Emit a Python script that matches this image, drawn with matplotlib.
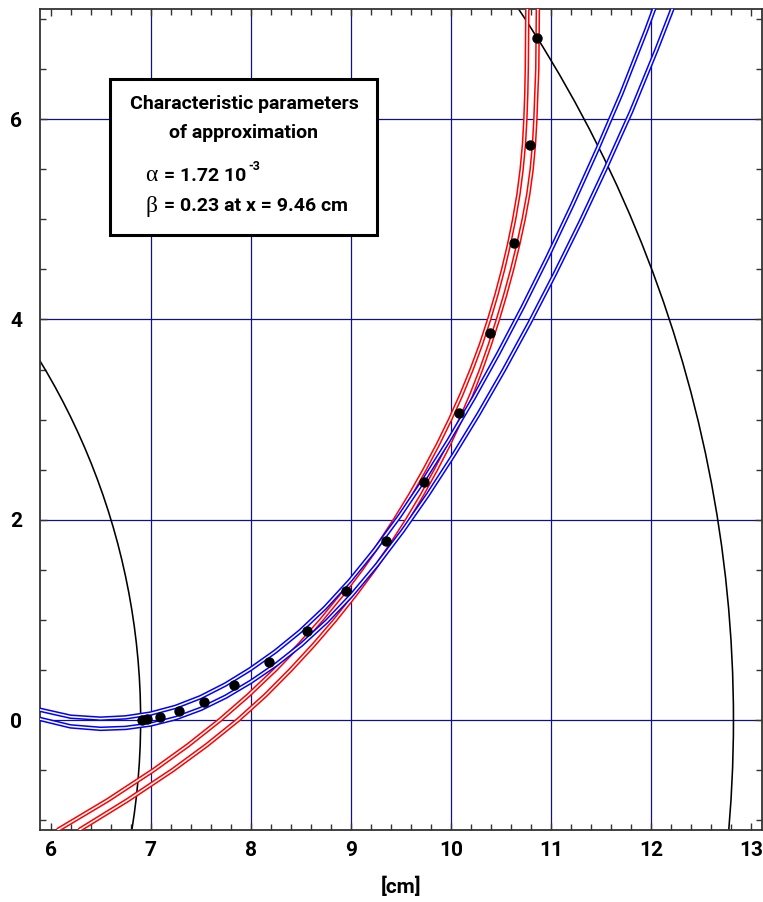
import matplotlib
matplotlib.use("Agg")
import matplotlib.pyplot as plt
from matplotlib.patches import Circle, Rectangle
from matplotlib.ticker import MultipleLocator, FixedLocator
from matplotlib.transforms import Affine2D

# ---------------- data ----------------
dots_x = [6.917, 6.967, 7.093, 7.279, 7.536, 7.835, 8.181, 8.560, 8.953,
          9.348, 9.728, 10.084, 10.386, 10.630, 10.792, 10.862]
dots_y = [0.0, 0.006, 0.030, 0.086, 0.183, 0.345, 0.579, 0.888, 1.290,
          1.786, 2.378, 3.070, 3.868, 4.760, 5.745, 6.809]

# red curves, read as x at given heights y
red_y = [-1.10, -0.8, -0.5, -0.25, 0.0, 0.25, 0.5, 0.75, 1.0, 1.25, 1.5,
         1.75, 2.0, 2.25, 2.5, 2.75, 3.0, 3.25, 3.5, 3.75, 4.0, 4.25, 4.5,
         4.75, 5.0, 5.25, 5.5, 5.75, 6.0, 6.25, 6.5, 7.15]
red1_x = [6.069, 6.572, 7.029, 7.376, 7.692, 7.979, 8.242, 8.483, 8.705,
          8.910, 9.100, 9.276, 9.440, 9.593, 9.735, 9.868, 9.990, 10.103,
          10.205, 10.298, 10.380, 10.454, 10.520, 10.579, 10.630, 10.673,
          10.705, 10.728, 10.742, 10.751, 10.756, 10.762]
red2_x = [6.284, 6.770, 7.220, 7.561, 7.872, 8.149, 8.397, 8.628, 8.843,
          9.042, 9.228, 9.401, 9.562, 9.711, 9.849, 9.978, 10.095, 10.203,
          10.300, 10.388, 10.468, 10.542, 10.610, 10.671, 10.725, 10.771,
          10.805, 10.828, 10.842, 10.851, 10.861, 10.867]

# blue curve pair: common centre line, the two drawn lines are turned
# about the origin by +/- blue_turn (radians)
blue_x = [5.85, 6.2, 6.5, 6.75, 7.0, 7.25, 7.5, 7.75, 8.0, 8.25, 8.5, 8.75,
          9.0, 9.25, 9.5, 9.75, 10.0, 10.25, 10.5, 10.75, 11.0, 11.25, 11.5,
          11.75, 12.0, 12.25]
blue_y = [0.067, -0.015, -0.037, -0.026, 0.010, 0.075, 0.170, 0.295, 0.446,
          0.620, 0.820, 1.053, 1.321, 1.625, 1.960, 2.325, 2.718, 3.135,
          3.578, 4.045, 4.538, 5.055, 5.598, 6.166, 6.790, 7.450]
blue_turn = 0.0078

circle_cx = [0.0, 0.0]
circle_cy = [0.0, 0.0]
circle_r = [6.90, 12.82]

x_ticks = [6, 7, 8, 9, 10, 11, 12, 13]
y_ticks = [0, 2, 4, 6]
x_grid = [7, 8, 9, 10, 11, 12]
y_grid = [0, 2, 4, 6]

box_title = ["Characteristic parameters", "of approximation"]
alpha_text = "= 1.72 10"
alpha_exp = "-3"
beta_text = "= 0.23 at x = 9.46 cm"

# ---------------- style ----------------
FONT = ["Roboto", "DejaVu Sans"]
SERIF = ["Liberation Serif", "DejaVu Serif"]
plt.rcParams["font.family"] = FONT
plt.rcParams["font.weight"] = "bold"

fig = plt.figure(figsize=(7.63, 9.02), dpi=100)
ax = fig.add_axes([40 / 763, (902 - 830) / 902, 722 / 763, 821 / 902])
ax.set_xlim(5.895, 13.105)
ax.set_ylim(-1.098, 7.10)

grid_c = "#10108e"
ax.xaxis.set_major_locator(FixedLocator(x_ticks))
ax.xaxis.set_minor_locator(MultipleLocator(0.2))
ax.yaxis.set_major_locator(FixedLocator(y_ticks))
ax.yaxis.set_minor_locator(MultipleLocator(0.5))
for gx in x_grid:
    ax.axvline(gx, color=grid_c, lw=0.9, zorder=1)
for gy in y_grid:
    ax.axhline(gy, color=grid_c, lw=0.9, zorder=1)
ax.tick_params(which="both", direction="in", top=True, right=True,
               color="#333333", width=1.0)
ax.tick_params(which="major", length=5, labelsize=15)
ax.tick_params(which="minor", length=4)
ax.tick_params(axis="y", pad=13)
ax.tick_params(axis="x", pad=8)
for s in ax.spines.values():
    s.set_color("#333333")
    s.set_linewidth(1.3)
for lab in ax.get_xticklabels() + ax.get_yticklabels():
    lab.set_fontweight("bold")
ax.set_xlabel("[cm]", fontsize=15, fontweight="bold", labelpad=12)

# black circles
for cx, cy, r in zip(circle_cx, circle_cy, circle_r):
    ax.add_patch(Circle((cx, cy), r, fill=False, ec="black", lw=1.15, zorder=2))

# double lines
def dline(xs, ys, c, tr=None):
    tr = ax.transData if tr is None else tr
    ax.plot(xs, ys, color=c, lw=3.3, solid_capstyle="butt", zorder=3,
            transform=tr)
    ax.plot(xs, ys, color="white", lw=1.1, solid_capstyle="butt", zorder=3,
            transform=tr)

dline(red1_x, red_y, "#ff0000")
dline(red2_x, red_y, "#ff0000")
for sgn in (1, -1):
    dline(blue_x, blue_y, "#0000ff",
          Affine2D().rotate(sgn * blue_turn) + ax.transData)

ax.plot(dots_x, dots_y, "o", color="black", ms=6.5, zorder=5)

# text box
ax.add_patch(Rectangle((0.097, 0.725), 0.37, 0.19, transform=ax.transAxes,
                       fill=True, fc="white", ec="black", lw=2.2, zorder=6))
ax.text(0.2825, 0.884, box_title[0], transform=ax.transAxes, ha="center",
        va="center", fontsize=14, fontweight="bold", zorder=7)
ax.text(0.2825, 0.849, box_title[1], transform=ax.transAxes, ha="center",
        va="center", fontsize=14, fontweight="bold", zorder=7)
ax.text(0.146, 0.797, "\u03b1", transform=ax.transAxes, ha="left", va="center",
        fontsize=17, family=SERIF, fontweight="normal", zorder=7)
ta = ax.text(0.172, 0.797, alpha_text, transform=ax.transAxes, ha="left",
             va="center", fontsize=14, fontweight="bold", zorder=7)
ax.text(0.146, 0.760, "\u03b2", transform=ax.transAxes, ha="left", va="center",
        fontsize=17, family=SERIF, fontweight="normal", zorder=7)
ax.text(0.172, 0.760, beta_text, transform=ax.transAxes, ha="left",
        va="center", fontsize=14, fontweight="bold", zorder=7)

fig.canvas.draw()
bb = ta.get_window_extent(fig.canvas.get_renderer())
x1, _ = ax.transAxes.inverted().transform((bb.x1, bb.y1))
ax.text(x1 + 0.002, 0.808, alpha_exp, transform=ax.transAxes, ha="left",
        va="center", fontsize=9, fontweight="bold", zorder=7)

fig.savefig("out.png", dpi=100)
